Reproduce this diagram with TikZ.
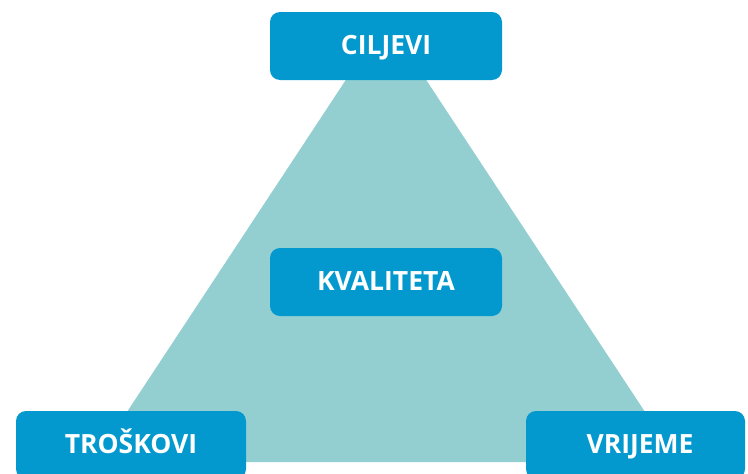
\documentclass[tikz,border=0pt]{standalone}
\usepackage{fontspec}
\setmainfont{Open Sans}
\definecolor{boxblue}{HTML}{0399CF}
\definecolor{triteal}{HTML}{93CFD0}
\begin{document}
\begin{tikzpicture}[x=1pt,y=-1pt,
  label font/.style={text=white, font=\fontsize{26.5}{30}\selectfont\bfseries,
    text height=19pt, text depth=2pt},
  label box/.style={label font, fill=boxblue, rounded corners=10pt,
    minimum height=68pt, inner sep=0pt}]
  \clip (0,0) rectangle (748,474);
  \fill[white] (0,0) rectangle (748,474);
  % the triangle behind the labels
  \coordinate (apex) at (386,19);
  \coordinate (bl) at (94,462);
  \coordinate (br) at (678,462);
  \fill[triteal] (apex) -- (bl) -- (br) -- cycle;
  % labels
  \node[label box, minimum width=232pt] (ciljevi) at (386,46) {CILJEVI};
  \node[label box, minimum width=232pt] (kvaliteta) at (386,282) {KVALITETA};
  \node[label box, minimum width=230pt] (troskovi) at (131,445) {TROŠKOVI};
  \node[label box, minimum width=219pt] (vrijeme) at (635.5,445) {};
  \node[label font, inner sep=0pt] (vrijemetxt) at (640,445) {VRIJEME};
\end{tikzpicture}
\end{document}
